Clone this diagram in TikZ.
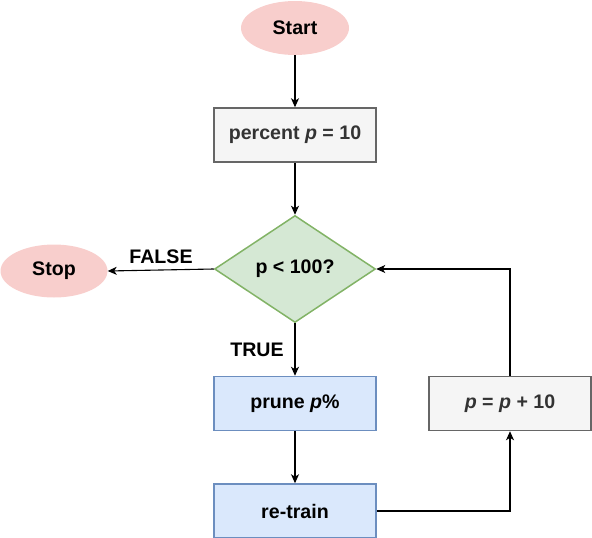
\documentclass[tikz,border=0pt]{standalone}
\usepackage{fontspec}
\setmainfont{Liberation Sans}
\usetikzlibrary{shapes.geometric,arrows.meta}
\definecolor{redfill}{HTML}{F8CECC}
\definecolor{greenfill}{HTML}{D5E8D4}
\definecolor{greenline}{HTML}{82B366}
\definecolor{bluefill}{HTML}{DAE8FC}
\definecolor{blueline}{HTML}{6C8EBF}
\definecolor{grayfill}{HTML}{F5F5F5}
\definecolor{grayline}{HTML}{666666}
\definecolor{graytext}{HTML}{333333}
\tikzset{
  base/.style={font=\fontsize{19.6}{22}\selectfont\bfseries, inner sep=0pt},
  terminal/.style={base, ellipse, fill=redfill, draw=none},
  graybox/.style={base, rectangle, fill=grayfill, draw=grayline, line width=1.5pt, text=graytext, minimum width=162pt, minimum height=54pt},
  bluebox/.style={base, rectangle, fill=bluefill, draw=blueline, line width=1.5pt, minimum width=162pt, minimum height=54pt},
  decision/.style={base, diamond, aspect=1.5, fill=greenfill, draw=greenline, line width=1.5pt, minimum width=161pt, minimum height=107pt},
  conn/.style={line width=1.1pt, -{Stealth[length=9pt,width=8pt,inset=2.5pt]}},
  lbl/.style={base}
}
\begin{document}
\begin{tikzpicture}[x=1pt,y=-1pt]
\useasboundingbox (0,0) rectangle (592,538);
\node[terminal, minimum width=108pt, minimum height=54pt] (start) at (295,28) {Start};
\node[graybox] (init) at (295,135) {percent \textit{p} = 10};
\node[decision] (dec) at (295,269) {p < 100?};
\node[terminal, minimum width=107pt, minimum height=53pt] (stop) at (54,271) {Stop};
\node[bluebox] (prune) at (295,403.5) {prune \textit{p}\%};
\node[bluebox] (retrain) at (295,511) {re-train};
\node[graybox] (inc) at (510,403.5) {\textit{p} = \textit{p} + 10};
\node[lbl] (false) at (161,257) {FALSE};
\node[lbl] (true) at (257,350) {TRUE};
\draw[conn] (start) -- (init);
\draw[conn] (init) -- (dec);
\draw[conn] (dec.west) -- (stop.east);
\draw[conn] (dec.south) -- (prune.north);
\draw[conn] (prune) -- (retrain);
\draw[conn] (retrain.east) -| (inc.south);
\draw[conn] (inc.north) |- (dec.east);
\end{tikzpicture}
\end{document}
